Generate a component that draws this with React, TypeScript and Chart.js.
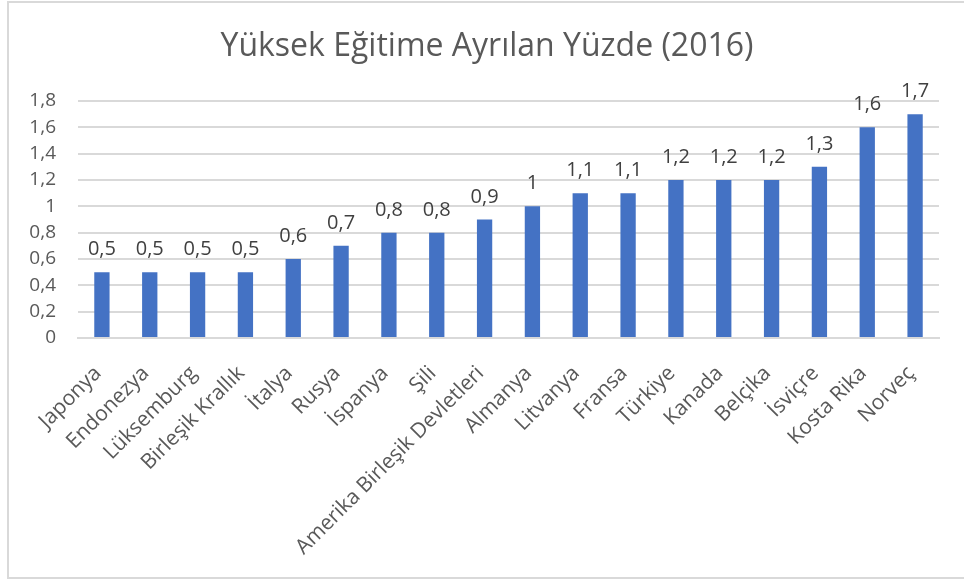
import React, { useEffect, useRef } from "react";
import { Chart, registerables } from "chart.js";

Chart.register(...registerables);

const TITLE = "Yüksek Eğitime Ayrılan Yüzde (2016)";
const categories = [
  "Japonya", "Endonezya", "Lüksemburg", "Birleşik Krallık", "İtalya", "Rusya",
  "İspanya", "Şili", "Amerika Birleşik Devletleri", "Almanya", "Litvanya", "Fransa",
  "Türkiye", "Kanada", "Belçika", "İsviçre", "Kosta Rika", "Norveç",
];
const values = [0.5, 0.5, 0.5, 0.5, 0.6, 0.7, 0.8, 0.8, 0.9, 1, 1.1, 1.1, 1.2, 1.2, 1.2, 1.3, 1.6, 1.7];
const yMin = 0;
const yMax = 1.8;
const yStep = 0.2;

const FONT = "'Open Sans', 'Noto Sans', sans-serif";
const fmt = (v: number) => String(Math.round(v * 10) / 10).replace(".", ",");

const overlay = {
  id: "overlay",
  afterDatasetsDraw(chart: any) {
    const ctx = chart.ctx;
    ctx.save();
    ctx.fillStyle = "#404040";
    ctx.font = `20px ${FONT}`;
    ctx.textAlign = "center";
    ctx.textBaseline = "alphabetic";
    const meta = chart.getDatasetMeta(0);
    meta.data.forEach((bar: any, i: number) => {
      ctx.fillText(fmt(values[i]), bar.x, bar.y - 17);
    });
    ctx.fillStyle = "#595959";
    ctx.font = `32px ${FONT}`;
    ctx.fillText(TITLE, 487, 56);
    ctx.restore();
  },
};

export default function App() {
  const ref = useRef<HTMLCanvasElement | null>(null);
  useEffect(() => {
    if (!ref.current) return;
    const chart = new Chart(ref.current, {
      type: "bar",
      data: {
        labels: categories,
        datasets: [
          {
            data: values,
            backgroundColor: "#4472C4",
            barPercentage: 0.32,
            categoryPercentage: 1,
          },
        ],
      },
      options: {
        animation: false,
        responsive: false,
        maintainAspectRatio: false,
        layout: { padding: { left: 0, top: 101, right: 25, bottom: 0 } },
        plugins: { legend: { display: false }, title: { display: false }, tooltip: { enabled: false } },
        scales: {
          x: {
            grid: { display: false, drawTicks: false },
            border: { display: true, color: "#d9d9d9", width: 2 },
            ticks: {
              autoSkip: false,
              maxRotation: 45,
              minRotation: 45,
              color: "#595959",
              font: { family: FONT, size: 21 },
              padding: 23,
              labelOffset: -4,
            },
            afterFit: (s: any) => { s.height = 243; },
          },
          y: {
            min: yMin,
            max: yMax,
            grid: { color: "#d9d9d9", lineWidth: 2, drawTicks: false },
            border: { display: false },
            ticks: {
              stepSize: yStep,
              color: "#595959",
              font: { family: FONT, size: 19 },
              padding: 22,
              callback: (v: any) => fmt(Number(v)),
            },
            afterFit: (s: any) => { s.width = 78; },
          },
        },
      },
      plugins: [overlay],
    });
    return () => chart.destroy();
  }, []);
  return (
    <div style={{ position: "absolute", left: 0, top: 0, width: 964, height: 581, background: "#fff", overflow: "hidden" }}>
      <div
        style={{
          position: "absolute", left: 7, top: 1, width: 980, height: 578, boxSizing: "border-box",
          borderLeft: "2px solid #d9d9d9", borderTop: "2px solid #d9d9d9", borderBottom: "2px solid #d9d9d9",
        }}
      />
      <canvas ref={ref} width={964} height={581} style={{ position: "absolute", left: 0, top: 0 }} />
    </div>
  );
}
